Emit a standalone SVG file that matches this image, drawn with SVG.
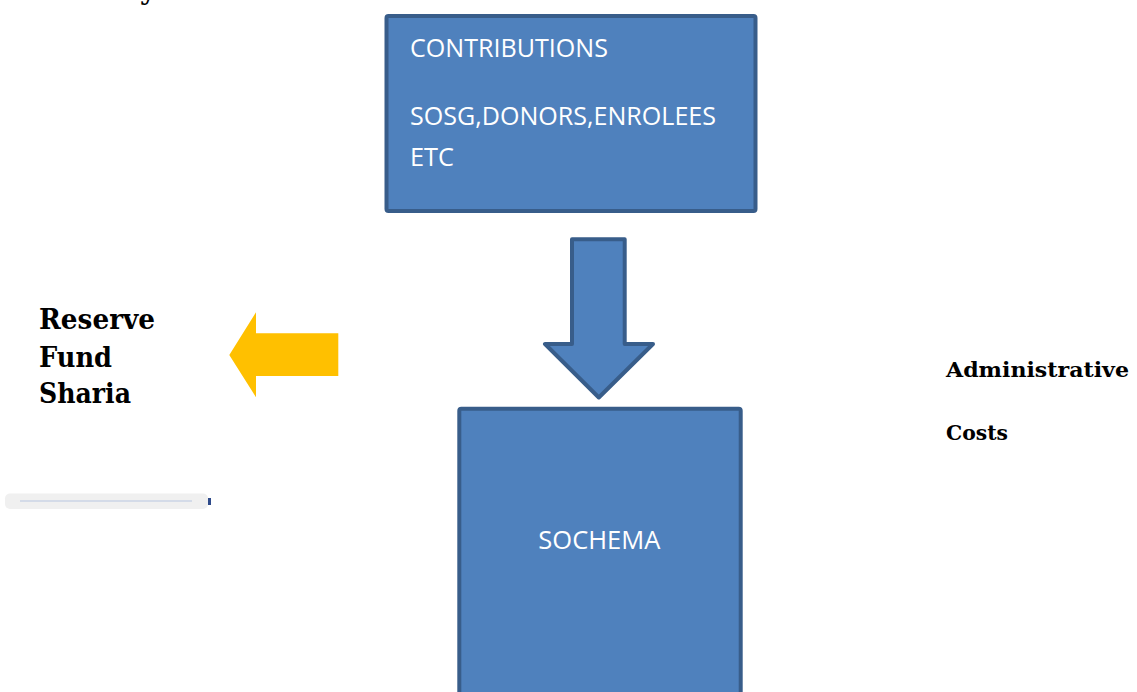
<svg xmlns="http://www.w3.org/2000/svg" width="1137" height="692" viewBox="0 0 1137 692">
<style>
.box{fill:#4F81BD;stroke:#385D8A;stroke-width:4;stroke-linejoin:round}
.wt{fill:#FFFFFF;font-family:"Open Sans","Liberation Sans",sans-serif}
.bs{fill:#000000;font-family:"DejaVu Serif","Liberation Serif",serif;font-weight:bold}
</style>
<rect width="1137" height="692" fill="#FFFFFF"/>
<text class="bs" x="140" y="-1" font-size="27">y</text>
<g id="contributions">
<rect class="box" x="386.5" y="16" width="369" height="195" rx="2"/>
<text class="wt" x="410" y="57" font-size="25" textLength="198" lengthAdjust="spacingAndGlyphs">CONTRIBUTIONS</text>
<text class="wt" x="410" y="125" font-size="25" textLength="306" lengthAdjust="spacingAndGlyphs">SOSG,DONORS,ENROLEES</text>
<text class="wt" x="410" y="166" font-size="25" textLength="44" lengthAdjust="spacingAndGlyphs">ETC</text>
</g>
<g id="sochema">
<rect class="box" x="459.3" y="408.7" width="281.4" height="300" rx="2"/>
<text class="wt" x="538.3" y="549" font-size="25" textLength="122" lengthAdjust="spacingAndGlyphs">SOCHEMA</text>
</g>
<g id="reserve">
<text class="bs" x="39" y="328.5" font-size="27" textLength="116" lengthAdjust="spacingAndGlyphs">Reserve</text>
<text class="bs" x="39" y="366.5" font-size="27" textLength="73" lengthAdjust="spacingAndGlyphs">Fund</text>
<text class="bs" x="39" y="403" font-size="27" textLength="92" lengthAdjust="spacingAndGlyphs">Sharia</text>
</g>
<g id="admin">
<text class="bs" x="946" y="377" font-size="20" textLength="183" lengthAdjust="spacingAndGlyphs">Administrative</text>
<text class="bs" x="946" y="440" font-size="20" textLength="62" lengthAdjust="spacingAndGlyphs">Costs</text>
</g>
<g id="bar">
<rect x="5" y="493.5" width="203" height="15.5" rx="5" fill="#F0F0F0"/>
<line x1="20" y1="501" x2="192" y2="501" stroke="#D4DBE8" stroke-width="2"/>
<rect x="208" y="498" width="3" height="7" fill="#2E4A8A"/>
</g>
<g id="connectors">
<polygon class="box" points="572,239.3 624.7,239.3 624.7,344 653,344 598.8,397.5 545,344 572,344"/>
<polygon points="338.3,333.3 256,333.3 256,312.3 229.3,355 256,397.3 256,376 338.3,376" fill="#FFC000"/>
</g>
</svg>
